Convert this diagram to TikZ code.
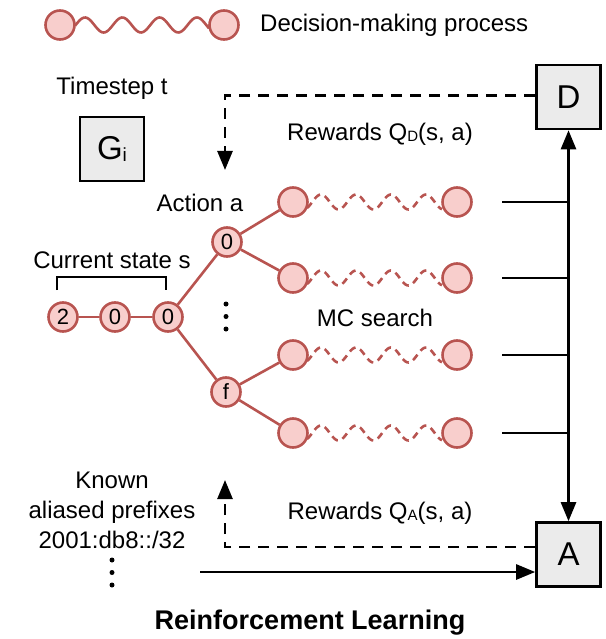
\documentclass[tikz,border=0pt]{standalone}
\usepackage{fontspec}
\setmainfont{Liberation Sans}
\usetikzlibrary{arrows.meta,calc}
\definecolor{rd}{HTML}{B85450}
\definecolor{rf}{HTML}{F8CECC}
\definecolor{gbox}{HTML}{EBEBEB}
\newcommand{\lsub}[2]{\raisebox{-1.5pt}{\fontsize{#1}{#1}\selectfont #2}}
\begin{document}
\begin{tikzpicture}[x=1pt,y=-1pt,
  lbl/.style={font=\fontsize{24}{30}\selectfont, inner sep=0},
  st/.style={circle, draw=rd, fill=rf, line width=2.6pt, minimum size=29pt, inner sep=0, font=\fontsize{22}{22}\selectfont},
  bx/.style={draw, fill=gbox, line width=2.6pt, minimum size=64pt, inner sep=0, font=\fontsize{33}{33}\selectfont},
  edge/.style={draw=rd, line width=2.6pt},
  arr/.style={line width=2.6pt, -{Triangle[length=19pt,width=15pt]}},
  dsh/.style={dash pattern=on 11pt off 8pt},
  dot/.style={circle, fill, inner sep=0, minimum size=5pt}]
\useasboundingbox (0,0) rectangle (605,639);

% legend
\node[st] (l1) at (60,25) {};
\node[st] (l2) at (224,25) {};
\draw[edge] plot[domain=75:209, samples=90] (\x, {25 - 7.5*cos((\x-85)*9.65)});
\node[lbl, anchor=west] (dm) at (260,25) {Decision-making process};

% timestep
\node[lbl] (ts) at (112,88) {Timestep t};
\node[bx] (G) at (112,149) {G\lsub{19}{i}};

% D and A boxes
\node[bx] (D) at (568.5,97) {D};
\node[bx] (A) at (568.5,554.5) {A};

% labels
\node[lbl] (rwd) at (380,134) {Rewards Q\lsub{15}{D}(s, a)};
\node[lbl] (act) at (200,203) {Action a};
\node[lbl] (cs) at (112,260) {Current state s};
\node[lbl] (mc) at (375,318) {MC search};
\node[lbl] (rwa) at (380,513) {Rewards Q\lsub{15}{A}(s, a)};
\node[lbl, align=center] (kn) at (112,510) {Known\\aliased prefixes\\2001:db8::/32};
\node[font=\fontsize{27}{30}\selectfont\bfseries, inner sep=0] (rl) at (310,623) {Reinforcement Learning};

% bracket
\draw[line width=2.6pt] (57,290) -- (57,277) -- (166,277) -- (166,290);

% tree
\node[st] (s1) at (63,317) {2};
\node[st] (s2) at (115,317) {0};
\node[st] (s3) at (168,317) {0};
\node[st] (a0) at (227,242) {0};
\node[st] (af) at (226,392) {f};
\draw[edge] (s1) -- (s2) -- (s3);
\draw[edge] (s3) -- (a0);
\draw[edge] (s3) -- (af);
\foreach \i/\y in {1/202,2/278,3/355,4/433} {
  \node[st] (p\i) at (293,\y) {};
  \node[st] (q\i) at (457,\y) {};
  \draw[edge, dash pattern=on 7pt off 5pt] plot[domain=307:442, samples=90] (\x, {\y - 7.5*cos((\x-321)*10.29)});
  \coordinate (h\i) at (502,\y);
  \draw[line width=2.6pt] (h\i) -- (h\i -| D.south);
}
\draw[edge] (a0) -- (p1);
\draw[edge] (a0) -- (p2);
\draw[edge] (af) -- (p3);
\draw[edge] (af) -- (p4);

% dots
\node[dot] (d1) at (226,304) {};
\node[dot] (d2) at (226,316.5) {};
\node[dot] (d3) at (226,329) {};
\node[dot] (e1) at (112,560) {};
\node[dot] (e2) at (112,572.5) {};
\node[dot] (e3) at (112,585) {};

% vertical double arrow
\draw[line width=2.6pt, {Triangle[length=19pt,width=15pt]}-{Triangle[length=19pt,width=15pt]}] (D.south) -- (A.north);

% dashed feedback arrows
\coordinate (tD) at (225,170);
\draw[arr, dsh] ($(D.west)+(0,-1.5)$) -| (tD);
\coordinate (tA) at (225,480);
\draw[arr, dsh] ($(A.west)+(0,-7.5)$) -| (tA);

% solid input arrow
\coordinate (s0) at (200,572);
\draw[arr] (s0) -- (s0 -| A.west);
\end{tikzpicture}
\end{document}
